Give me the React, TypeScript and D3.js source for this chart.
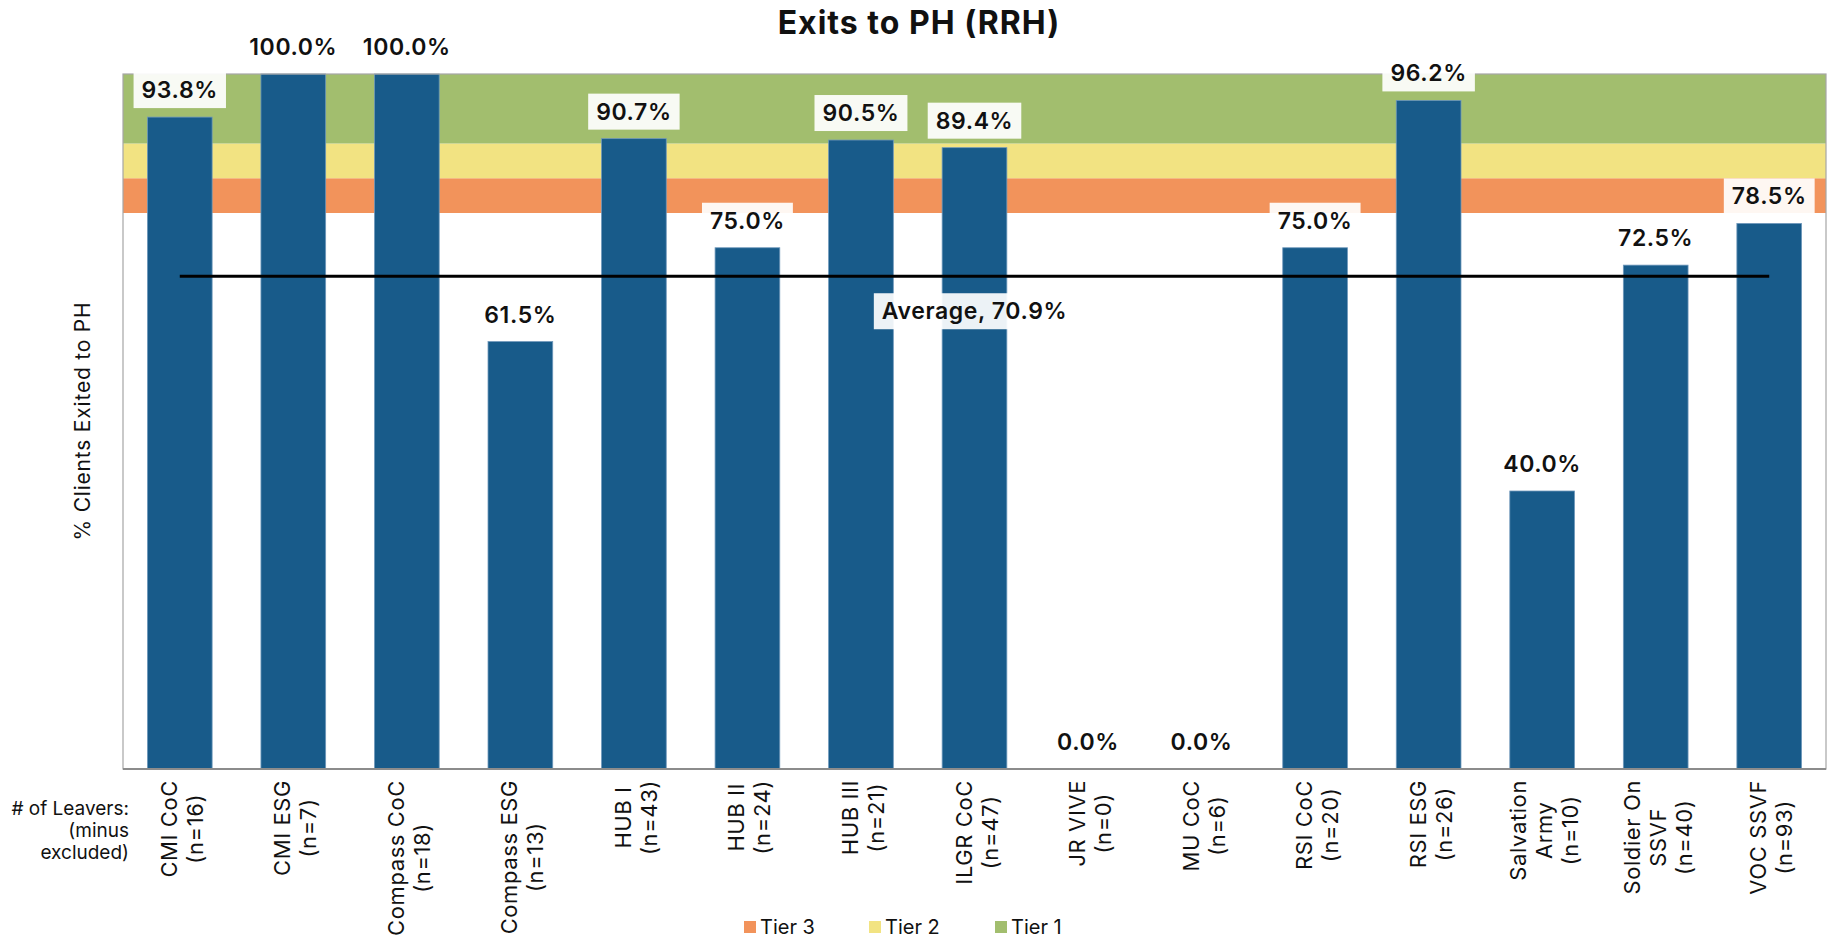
import { useEffect, useRef } from "react"
import * as d3 from "d3"

const programs = [
  ["CMI CoC", "(n=16)"],
  ["CMI ESG", "(n=7)"],
  ["Compass CoC", "(n=18)"],
  ["Compass ESG", "(n=13)"],
  ["HUB I", "(n=43)"],
  ["HUB II", "(n=24)"],
  ["HUB III", "(n=21)"],
  ["ILGR CoC", "(n=47)"],
  ["JR VIVE", "(n=0)"],
  ["MU CoC", "(n=6)"],
  ["RSI CoC", "(n=20)"],
  ["RSI ESG", "(n=26)"],
  ["Salvation", "Army", "(n=10)"],
  ["Soldier On", "SSVF", "(n=40)"],
  ["VOC SSVF", "(n=93)"],
]
const exitRates = [93.8, 100.0, 100.0, 61.5, 90.7, 75.0, 90.5, 89.4, 0.0, 0.0, 75.0, 96.2, 40.0, 72.5, 78.5]
const averageRate = 70.9
const tierNames = ["Tier 3", "Tier 2", "Tier 1"]
const tierFrom = [80, 85, 90]
const tierTo = [85, 90, 100]
const tierColors = ["#f2935b", "#f2e382", "#a2be6e"]
const leaverNote = ["# of Leavers:", "(minus", "excluded)"]

const FONT = "Inter, 'Noto Sans', sans-serif"

export default function App() {
  const ref = useRef<SVGSVGElement>(null)

  useEffect(() => {
    document.body.style.margin = "0"
    const svgEl = ref.current
    if (!svgEl || svgEl.childElementCount > 0) return
    const svg = d3.select(svgEl)

    const left = 123
    const right = 1826
    const top = 74
    const bottom = 769

    const x = d3
      .scaleBand<number>()
      .domain(d3.range(exitRates.length))
      .range([left, right])
      .paddingInner(0.43)
      .paddingOuter(0.215)
    const y = d3.scaleLinear().domain([0, 100]).range([bottom, top])
    const cx = (i: number) => (x(i) || 0) + x.bandwidth() / 2

    // title
    svg
      .append("text")
      .attr("x", 919)
      .attr("y", 22)
      .attr("text-anchor", "middle")
      .attr("dominant-baseline", "central")
      .style("font", `700 32px ${FONT}`)
      .style("letter-spacing", "1px")
      .attr("fill", "#111")
      .text("Exits to PH (RRH)")

    // tier bands
    svg
      .selectAll(".tier")
      .data(tierNames)
      .enter()
      .append("rect")
      .attr("x", left)
      .attr("width", right - left)
      .attr("y", (_, i) => y(tierTo[i]))
      .attr("height", (_, i) => y(tierFrom[i]) - y(tierTo[i]))
      .attr("fill", (_, i) => tierColors[i])

    // bars
    svg
      .selectAll(".bar")
      .data(exitRates)
      .enter()
      .append("rect")
      .attr("x", (_, i) => x(i) || 0)
      .attr("width", x.bandwidth())
      .attr("y", (d) => y(d))
      .attr("height", (d) => bottom - y(d))
      .attr("fill", "#185b8a")
      .attr("stroke", "#6f98bb")
      .attr("stroke-width", 0.8)

    // plot border
    svg
      .append("rect")
      .attr("x", left)
      .attr("y", top)
      .attr("width", right - left)
      .attr("height", bottom - top)
      .attr("fill", "none")
      .attr("stroke", "#a6a6a6")
      .attr("stroke-width", 1.2)
    svg
      .append("line")
      .attr("x1", left)
      .attr("x2", right)
      .attr("y1", bottom)
      .attr("y2", bottom)
      .attr("stroke", "#8c8c8c")
      .attr("stroke-width", 2)

    // average line
    svg
      .append("line")
      .attr("x1", cx(0))
      .attr("x2", cx(exitRates.length - 1))
      .attr("y1", y(averageRate))
      .attr("y2", y(averageRate))
      .attr("stroke", "#000")
      .attr("stroke-width", 3)

    const boxedLabel = (px: number, py: number, txt: string) => {
      const g = svg.append("g")
      const rect = g.append("rect").attr("fill", "#fff").attr("fill-opacity", 0.92)
      const t = g
        .append("text")
        .attr("x", px)
        .attr("y", py)
        .attr("text-anchor", "middle")
        .attr("dominant-baseline", "central")
        .style("font", `600 23px ${FONT}`)
        .style("letter-spacing", "0.6px")
        .attr("fill", "#111")
        .text(txt)
      const w = (t.node() as SVGTextElement).getComputedTextLength()
      rect
        .attr("x", px - w / 2 - 8)
        .attr("width", w + 16)
        .attr("y", py - 18)
        .attr("height", 36)
    }

    exitRates.forEach((v, i) => boxedLabel(cx(i), y(v) - 27, `${v.toFixed(1)}%`))
    boxedLabel((left + right) / 2, y(averageRate) + 35, `Average, ${averageRate.toFixed(1)}%`)

    // x labels, rotated
    const lineGap = 26
    programs.forEach((lines, i) => {
      const g = svg.append("g")
      const texts = lines.map((l) =>
        g
          .append("text")
          .attr("text-anchor", "middle")
          .attr("dominant-baseline", "central")
          .style("font", `400 22px ${FONT}`)
          .style("letter-spacing", "0.6px")
          .attr("fill", "#111")
          .text(l)
      )
      const maxLen = d3.max(texts, (t) => (t.node() as SVGTextElement).getComputedTextLength()) || 0
      const midY = 780 + maxLen / 2
      texts.forEach((t, j) => {
        const off = (j - (lines.length - 1) / 2) * lineGap
        t.attr("transform", `translate(${cx(i) + 2 + off},${midY}) rotate(-90)`)
      })
    })

    // leaver note
    leaverNote.forEach((l, j) => {
      svg
        .append("text")
        .attr("x", 129)
        .attr("y", 808 + j * 22)
        .attr("text-anchor", "end")
        .attr("dominant-baseline", "central")
        .style("font", `400 19px ${FONT}`)
        .attr("fill", "#111")
        .text(l)
    })

    // y axis title
    svg
      .append("text")
      .attr("transform", `translate(82,421) rotate(-90)`)
      .attr("text-anchor", "middle")
      .attr("dominant-baseline", "central")
      .style("font", `400 21px ${FONT}`)
      .style("letter-spacing", "0.8px")
      .attr("fill", "#111")
      .text("% Clients Exited to PH")

    // legend
    const legendX = [744, 869, 995]
    tierNames.forEach((name, i) => {
      svg
        .append("rect")
        .attr("x", legendX[i])
        .attr("y", 921)
        .attr("width", 12)
        .attr("height", 12)
        .attr("fill", tierColors[i])
      svg
        .append("text")
        .attr("x", legendX[i] + 16)
        .attr("y", 927)
        .attr("dominant-baseline", "central")
        .style("font", `400 20px ${FONT}`)
        .attr("fill", "#111")
        .text(name)
    })
  }, [])

  return <svg ref={ref} width={1835} height={939} style={{ display: "block" }} />
}
